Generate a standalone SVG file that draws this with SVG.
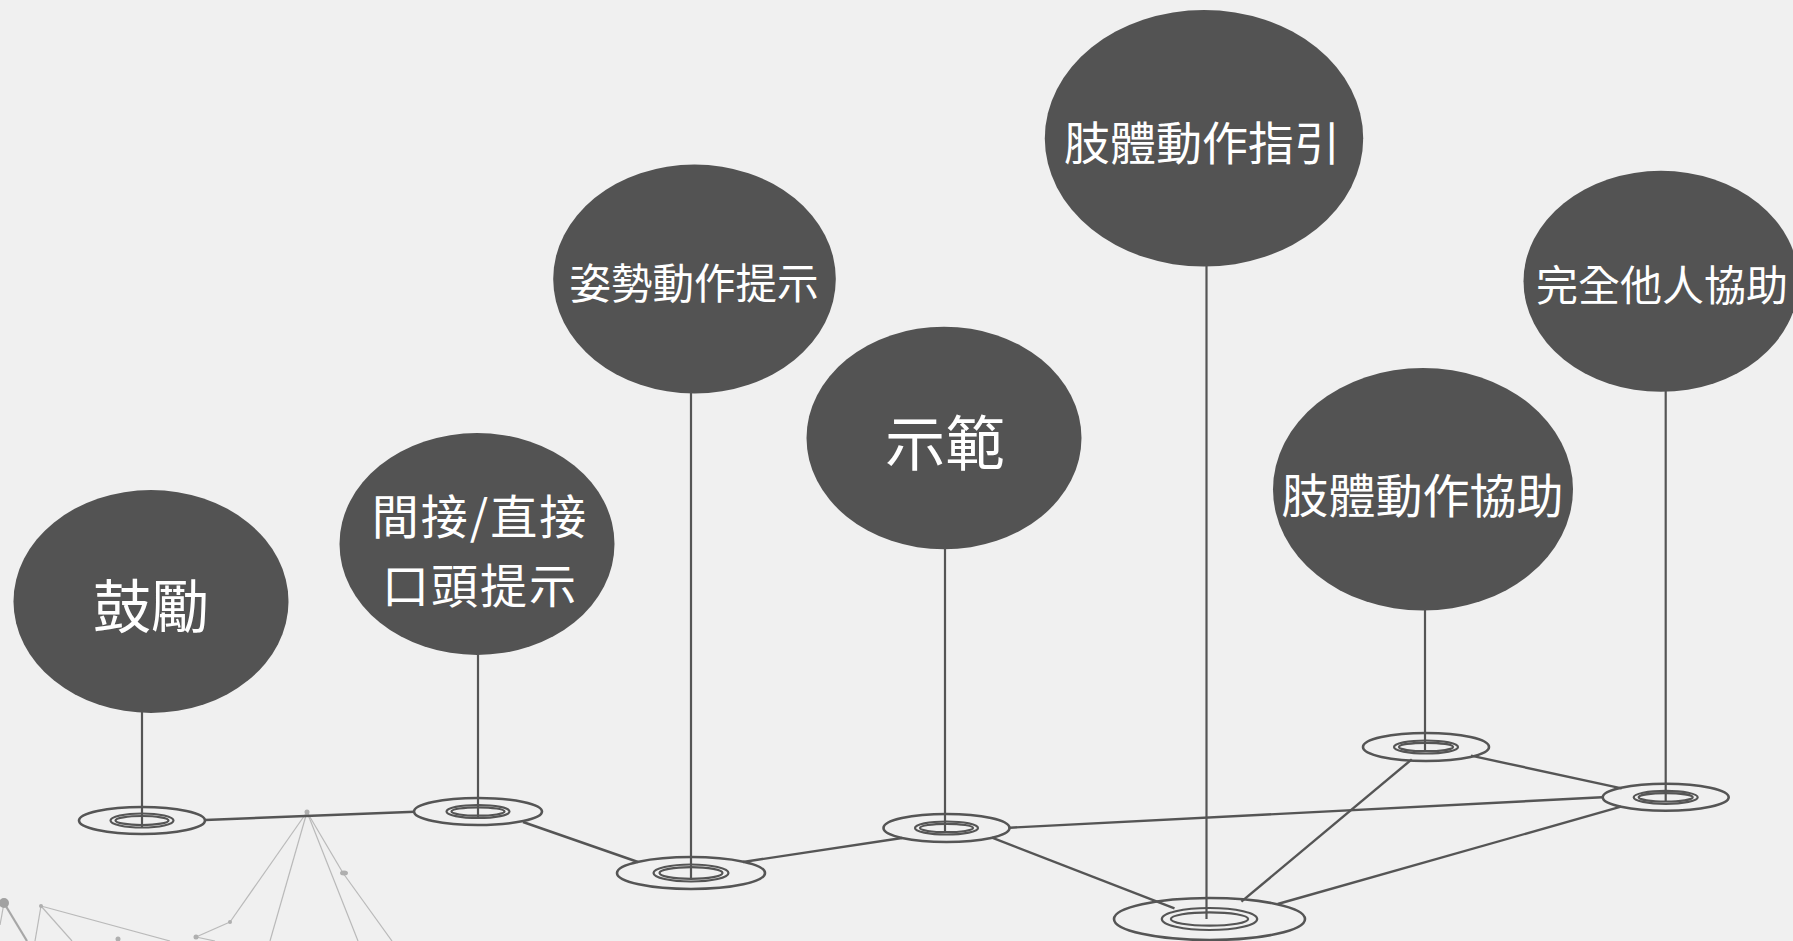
<svg xmlns="http://www.w3.org/2000/svg" width="1793" height="941" viewBox="0 0 1793 941">
<style>
.bg{fill:#f0f0f0}
.bubble{fill:#535353}
.lbl{fill:#ffffff;font-family:"Noto Sans CJK TC","Noto Sans CJK SC",sans-serif;text-anchor:middle}
.stem{stroke:#555555;stroke-width:2.2;fill:none}
.conn{stroke:#555555;stroke-width:2.4;fill:none}
.ring{stroke:#555555;stroke-width:2.6;fill:none}
.ringin{stroke:#555555;stroke-width:2.2;fill:none}
.deco{stroke:#b4b4b4;stroke-width:1.2;fill:none}
.decodot{fill:#a8a8a8}
</style>
<rect class="bg" x="0" y="0" width="1793" height="941"/>

<g id="background-network" opacity="0.9">
  <line class="deco" x1="307" y1="812" x2="270" y2="941"/>
  <line class="deco" x1="307" y1="812" x2="230" y2="922"/>
  <line class="deco" x1="230" y1="922" x2="196" y2="937"/>
  <line class="deco" x1="307" y1="812" x2="358" y2="941"/>
  <line class="deco" x1="307" y1="812" x2="343" y2="873"/>
  <line class="deco" x1="343" y1="873" x2="392" y2="941"/>
  <line class="deco" x1="41" y1="906" x2="35" y2="941"/>
  <line class="deco" x1="41" y1="906" x2="72" y2="941"/>
  <line class="deco" x1="41" y1="906" x2="170" y2="941"/>
  <line class="deco" x1="196" y1="937" x2="215" y2="941"/>
  <line class="deco" x1="4" y1="903" x2="27" y2="941" style="stroke-width:2.2;stroke:#a0a0a0"/>
  <line class="deco" x1="4" y1="903" x2="0" y2="925"/>
  <circle class="decodot" cx="307" cy="812" r="2.5"/>
  <ellipse class="decodot" cx="344" cy="873" rx="4" ry="2.5"/>
  <circle class="decodot" cx="230" cy="922" r="2"/>
  <circle class="decodot" cx="196" cy="937" r="2.5"/>
  <circle class="decodot" cx="41" cy="906" r="2"/>
  <circle class="decodot" cx="118" cy="939" r="2.5"/>
  <circle cx="4" cy="903" r="5" fill="#9a9a9a"/>
</g>

<g id="connectors">
  <line class="conn" x1="205" y1="820" x2="415" y2="811.7"/>
  <line class="conn" x1="523" y1="822" x2="638" y2="862"/>
  <line class="conn" x1="743" y1="862" x2="902" y2="838"/>
  <line class="conn" x1="992" y1="837.7" x2="1174.5" y2="908.3"/>
  <line class="conn" x1="1010" y1="827.7" x2="1602" y2="797.3"/>
  <line class="conn" x1="1411.8" y1="759.3" x2="1241.4" y2="901.7"/>
  <line class="conn" x1="1471" y1="755.7" x2="1621.7" y2="788.3"/>
  <line class="conn" x1="1621" y1="806.7" x2="1277.7" y2="904"/>
</g>

<g id="node-encourage">
  <ellipse class="bubble" cx="151" cy="601.5" rx="137.5" ry="111.5"/>
  <text class="lbl" x="151" y="628" font-size="58">鼓勵</text>
  <line class="stem" x1="142" y1="712" x2="142" y2="828"/>
  <ellipse class="ring" cx="142" cy="820.5" rx="63" ry="13.5"/>
  <ellipse class="ringin" cx="142" cy="820.5" rx="31.5" ry="7"/>
  <ellipse class="ringin" cx="142" cy="820.5" rx="26.5" ry="4.5"/>
</g>

<g id="node-verbal">
  <ellipse class="bubble" cx="477" cy="544" rx="137.5" ry="111"/>
  <text class="lbl" x="480" y="534" font-size="47" letter-spacing="2">間接/直接</text>
  <text class="lbl" x="480" y="603" font-size="47" letter-spacing="2">口頭提示</text>
  <line class="stem" x1="478" y1="654" x2="478" y2="818"/>
  <ellipse class="ring" cx="478" cy="811.5" rx="64" ry="13.5"/>
  <ellipse class="ringin" cx="478" cy="811.5" rx="31.5" ry="6.5"/>
  <ellipse class="ringin" cx="478" cy="811.5" rx="26.5" ry="4.2"/>
</g>

<g id="node-gesture">
  <ellipse class="bubble" cx="694.5" cy="279" rx="141.3" ry="114.5"/>
  <text class="lbl" x="694" y="299" font-size="41.5">姿勢動作提示</text>
  <line class="stem" x1="691" y1="392" x2="691" y2="878"/>
  <ellipse class="ring" cx="691" cy="873" rx="74" ry="16"/>
  <ellipse class="ringin" cx="691" cy="873" rx="37.5" ry="8.5"/>
  <ellipse class="ringin" cx="691" cy="873" rx="31.5" ry="5.8"/>
</g>

<g id="node-demo">
  <ellipse class="bubble" cx="944" cy="438" rx="137.5" ry="111.3"/>
  <text class="lbl" x="945" y="466" font-size="60">示範</text>
  <line class="stem" x1="945" y1="548" x2="945" y2="832"/>
  <ellipse class="ring" cx="946.5" cy="828" rx="63" ry="14"/>
  <ellipse class="ringin" cx="946.5" cy="828" rx="31.5" ry="6.5"/>
  <ellipse class="ringin" cx="946.5" cy="828" rx="26.5" ry="4.2"/>
</g>

<g id="node-limb-guide">
  <ellipse class="bubble" cx="1204" cy="138.3" rx="159.2" ry="128.3"/>
  <text class="lbl" x="1202" y="160" font-size="46">肢體動作指引</text>
  <line class="stem" x1="1206.5" y1="265" x2="1206.5" y2="919"/>
  <ellipse class="ring" cx="1209.5" cy="919" rx="95.5" ry="21"/>
  <ellipse class="ringin" cx="1209.5" cy="919" rx="47.7" ry="11"/>
  <ellipse class="ringin" cx="1209.5" cy="919" rx="38.6" ry="6.7"/>
</g>

<g id="node-limb-assist">
  <ellipse class="bubble" cx="1423" cy="489.3" rx="150" ry="121.3"/>
  <text class="lbl" x="1422.5" y="513" font-size="47">肢體動作協助</text>
  <line class="stem" x1="1425" y1="609" x2="1425" y2="752"/>
  <ellipse class="ring" cx="1426" cy="747" rx="63" ry="14"/>
  <ellipse class="ringin" cx="1426" cy="747" rx="32" ry="6.5"/>
  <ellipse class="ringin" cx="1426" cy="747" rx="27" ry="4.2"/>
</g>

<g id="node-full-assist">
  <ellipse class="bubble" cx="1661" cy="281.3" rx="137.5" ry="110.5"/>
  <text class="lbl" x="1662" y="301" font-size="42">完全他人協助</text>
  <line class="stem" x1="1665.7" y1="390" x2="1665.7" y2="802"/>
  <ellipse class="ring" cx="1665.7" cy="797.3" rx="63" ry="13.5"/>
  <ellipse class="ringin" cx="1665.7" cy="797.3" rx="32" ry="6.5"/>
  <ellipse class="ringin" cx="1665.7" cy="797.3" rx="27" ry="4.2"/>
</g>
</svg>
